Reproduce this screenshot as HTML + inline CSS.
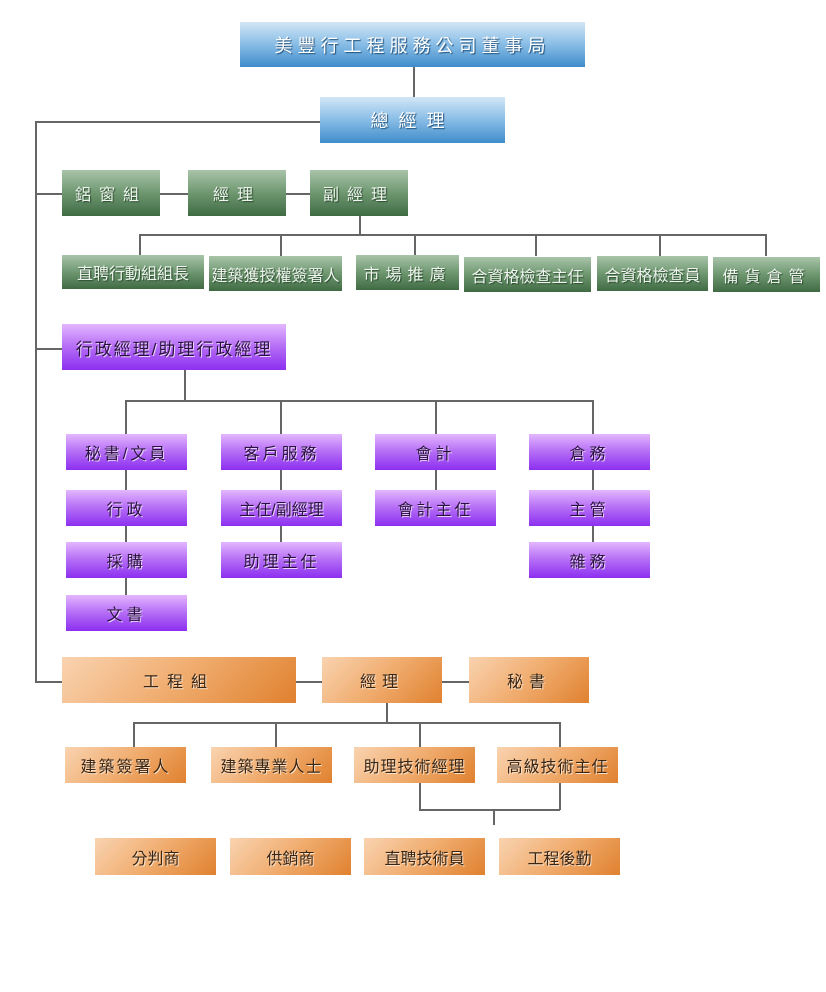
<!DOCTYPE html>
<html><head><meta charset="utf-8"><style>
body{margin:0;width:826px;height:992px;background:#fff;position:relative;overflow:hidden;font-family:"Liberation Sans","Noto Sans CJK TC",sans-serif}
.b{position:absolute;display:flex;align-items:center;justify-content:center;font-size:16px;box-sizing:border-box;white-space:nowrap}
.bl{background:linear-gradient(#d2e6f5,#8fc1e8 45%,#3f8ccb);color:#fff;text-shadow:1px 1px 1px #1f4f7a;font-size:18px;letter-spacing:5px}
.g{background:linear-gradient(#a9c4a9,#6e9770 50%,#3f6b43);color:#eef5ee;text-shadow:1px 1px 1px #2a4a2c}
.p{background:linear-gradient(#e3b6ff,#b46cf5 50%,#8c2ff0);color:#2a1040;text-shadow:1px 1px 0 #e9cfff}
.o{background:linear-gradient(135deg,#f9d3b0,#f0ac6e 50%,#e0812f);color:#3a2412;text-shadow:1px 1px 0 #fbe2c8}
.l{position:absolute;background:#666}
.h{height:1.5px}.v{width:1.5px}
</style></head><body>
<!-- lines -->
<div class="l v" style="left:413px;top:67px;height:30px"></div>
<div class="l h" style="left:35px;top:121px;width:285px"></div>
<div class="l v" style="left:35px;top:121px;height:561px"></div>
<div class="l h" style="left:35px;top:193px;width:370px"></div>
<div class="l v" style="left:359px;top:216px;height:19px"></div>
<div class="l h" style="left:139px;top:234px;width:627px"></div>
<div class="l v" style="left:139px;top:234px;height:22px"></div>
<div class="l v" style="left:280px;top:234px;height:22px"></div>
<div class="l v" style="left:414px;top:234px;height:22px"></div>
<div class="l v" style="left:535px;top:234px;height:22px"></div>
<div class="l v" style="left:659px;top:234px;height:22px"></div>
<div class="l v" style="left:765px;top:234px;height:22px"></div>
<div class="l h" style="left:35px;top:348px;width:30px"></div>
<div class="l v" style="left:184px;top:370px;height:30px"></div>
<div class="l h" style="left:125px;top:400px;width:468px"></div>
<div class="l v" style="left:125px;top:400px;height:220px"></div>
<div class="l v" style="left:280px;top:400px;height:160px"></div>
<div class="l v" style="left:435px;top:400px;height:100px"></div>
<div class="l v" style="left:592px;top:400px;height:160px"></div>
<div class="l h" style="left:35px;top:681px;width:440px"></div>
<div class="l v" style="left:386px;top:703px;height:20px"></div>
<div class="l h" style="left:133px;top:722px;width:427px"></div>
<div class="l v" style="left:133px;top:722px;height:26px"></div>
<div class="l v" style="left:275px;top:722px;height:26px"></div>
<div class="l v" style="left:419px;top:722px;height:88px"></div>
<div class="l v" style="left:559px;top:722px;height:88px"></div>
<div class="l h" style="left:419px;top:809px;width:141px"></div>
<div class="l v" style="left:493px;top:809px;height:16px"></div>
<!-- boxes -->
<div class="b bl" style="left:240px;top:22px;width:345px;height:45px">美豐行工程服務公司董事局</div>
<div class="b bl" style="left:320px;top:97px;width:185px;height:46px;letter-spacing:10px">總經理</div>
<div class="b g" style="left:62px;top:170px;width:98px;height:46px;letter-spacing:8px">鋁窗組</div>
<div class="b g" style="left:188px;top:170px;width:98px;height:46px;letter-spacing:8px">經理</div>
<div class="b g" style="left:310px;top:170px;width:98px;height:46px;letter-spacing:8px">副經理</div>
<div class="b g" style="left:62px;top:255px;width:142px;height:34px">直聘行動組組長</div>
<div class="b g" style="left:209px;top:256px;width:133px;height:35px">建築獲授權簽署人</div>
<div class="b g" style="left:356px;top:255px;width:103px;height:35px;letter-spacing:6px">市場推廣</div>
<div class="b g" style="left:464px;top:257px;width:127px;height:35px">合資格檢查主任</div>
<div class="b g" style="left:597px;top:256px;width:111px;height:35px">合資格檢查員</div>
<div class="b g" style="left:713px;top:257px;width:107px;height:35px;letter-spacing:6px">備貨倉管</div>
<div class="b p" style="left:62px;top:324px;width:224px;height:46px;font-size:17px;letter-spacing:2px">行政經理/助理行政經理</div>
<div class="b p" style="left:66px;top:434px;width:121px;height:36px;letter-spacing:3px">秘書/文員</div>
<div class="b p" style="left:66px;top:490px;width:121px;height:36px;letter-spacing:4px">行政</div>
<div class="b p" style="left:66px;top:542px;width:121px;height:36px;letter-spacing:4px">採購</div>
<div class="b p" style="left:66px;top:595px;width:121px;height:36px;letter-spacing:4px">文書</div>
<div class="b p" style="left:221px;top:434px;width:121px;height:36px;letter-spacing:3px">客戶服務</div>
<div class="b p" style="left:221px;top:490px;width:121px;height:36px">主任/副經理</div>
<div class="b p" style="left:221px;top:542px;width:121px;height:36px;letter-spacing:3px">助理主任</div>
<div class="b p" style="left:375px;top:434px;width:121px;height:36px;letter-spacing:4px">會計</div>
<div class="b p" style="left:375px;top:490px;width:121px;height:36px;letter-spacing:3px">會計主任</div>
<div class="b p" style="left:529px;top:434px;width:121px;height:36px;letter-spacing:4px">倉務</div>
<div class="b p" style="left:529px;top:490px;width:121px;height:36px;letter-spacing:4px">主管</div>
<div class="b p" style="left:529px;top:542px;width:121px;height:36px;letter-spacing:4px">雜務</div>
<div class="b o" style="left:62px;top:657px;width:234px;height:46px;letter-spacing:8px">工程組</div>
<div class="b o" style="left:322px;top:657px;width:120px;height:46px;letter-spacing:6px">經理</div>
<div class="b o" style="left:469px;top:657px;width:120px;height:46px;letter-spacing:6px">秘書</div>
<div class="b o" style="left:65px;top:747px;width:121px;height:36px;letter-spacing:2px">建築簽署人</div>
<div class="b o" style="left:211px;top:747px;width:121px;height:36px;letter-spacing:1px">建築專業人士</div>
<div class="b o" style="left:354px;top:747px;width:121px;height:36px;letter-spacing:1px">助理技術經理</div>
<div class="b o" style="left:497px;top:747px;width:121px;height:36px;letter-spacing:1px">高級技術主任</div>
<div class="b o" style="left:95px;top:838px;width:121px;height:37px">分判商</div>
<div class="b o" style="left:230px;top:838px;width:121px;height:37px">供銷商</div>
<div class="b o" style="left:364px;top:838px;width:121px;height:37px">直聘技術員</div>
<div class="b o" style="left:499px;top:838px;width:121px;height:37px">工程後勤</div>
</body></html>
